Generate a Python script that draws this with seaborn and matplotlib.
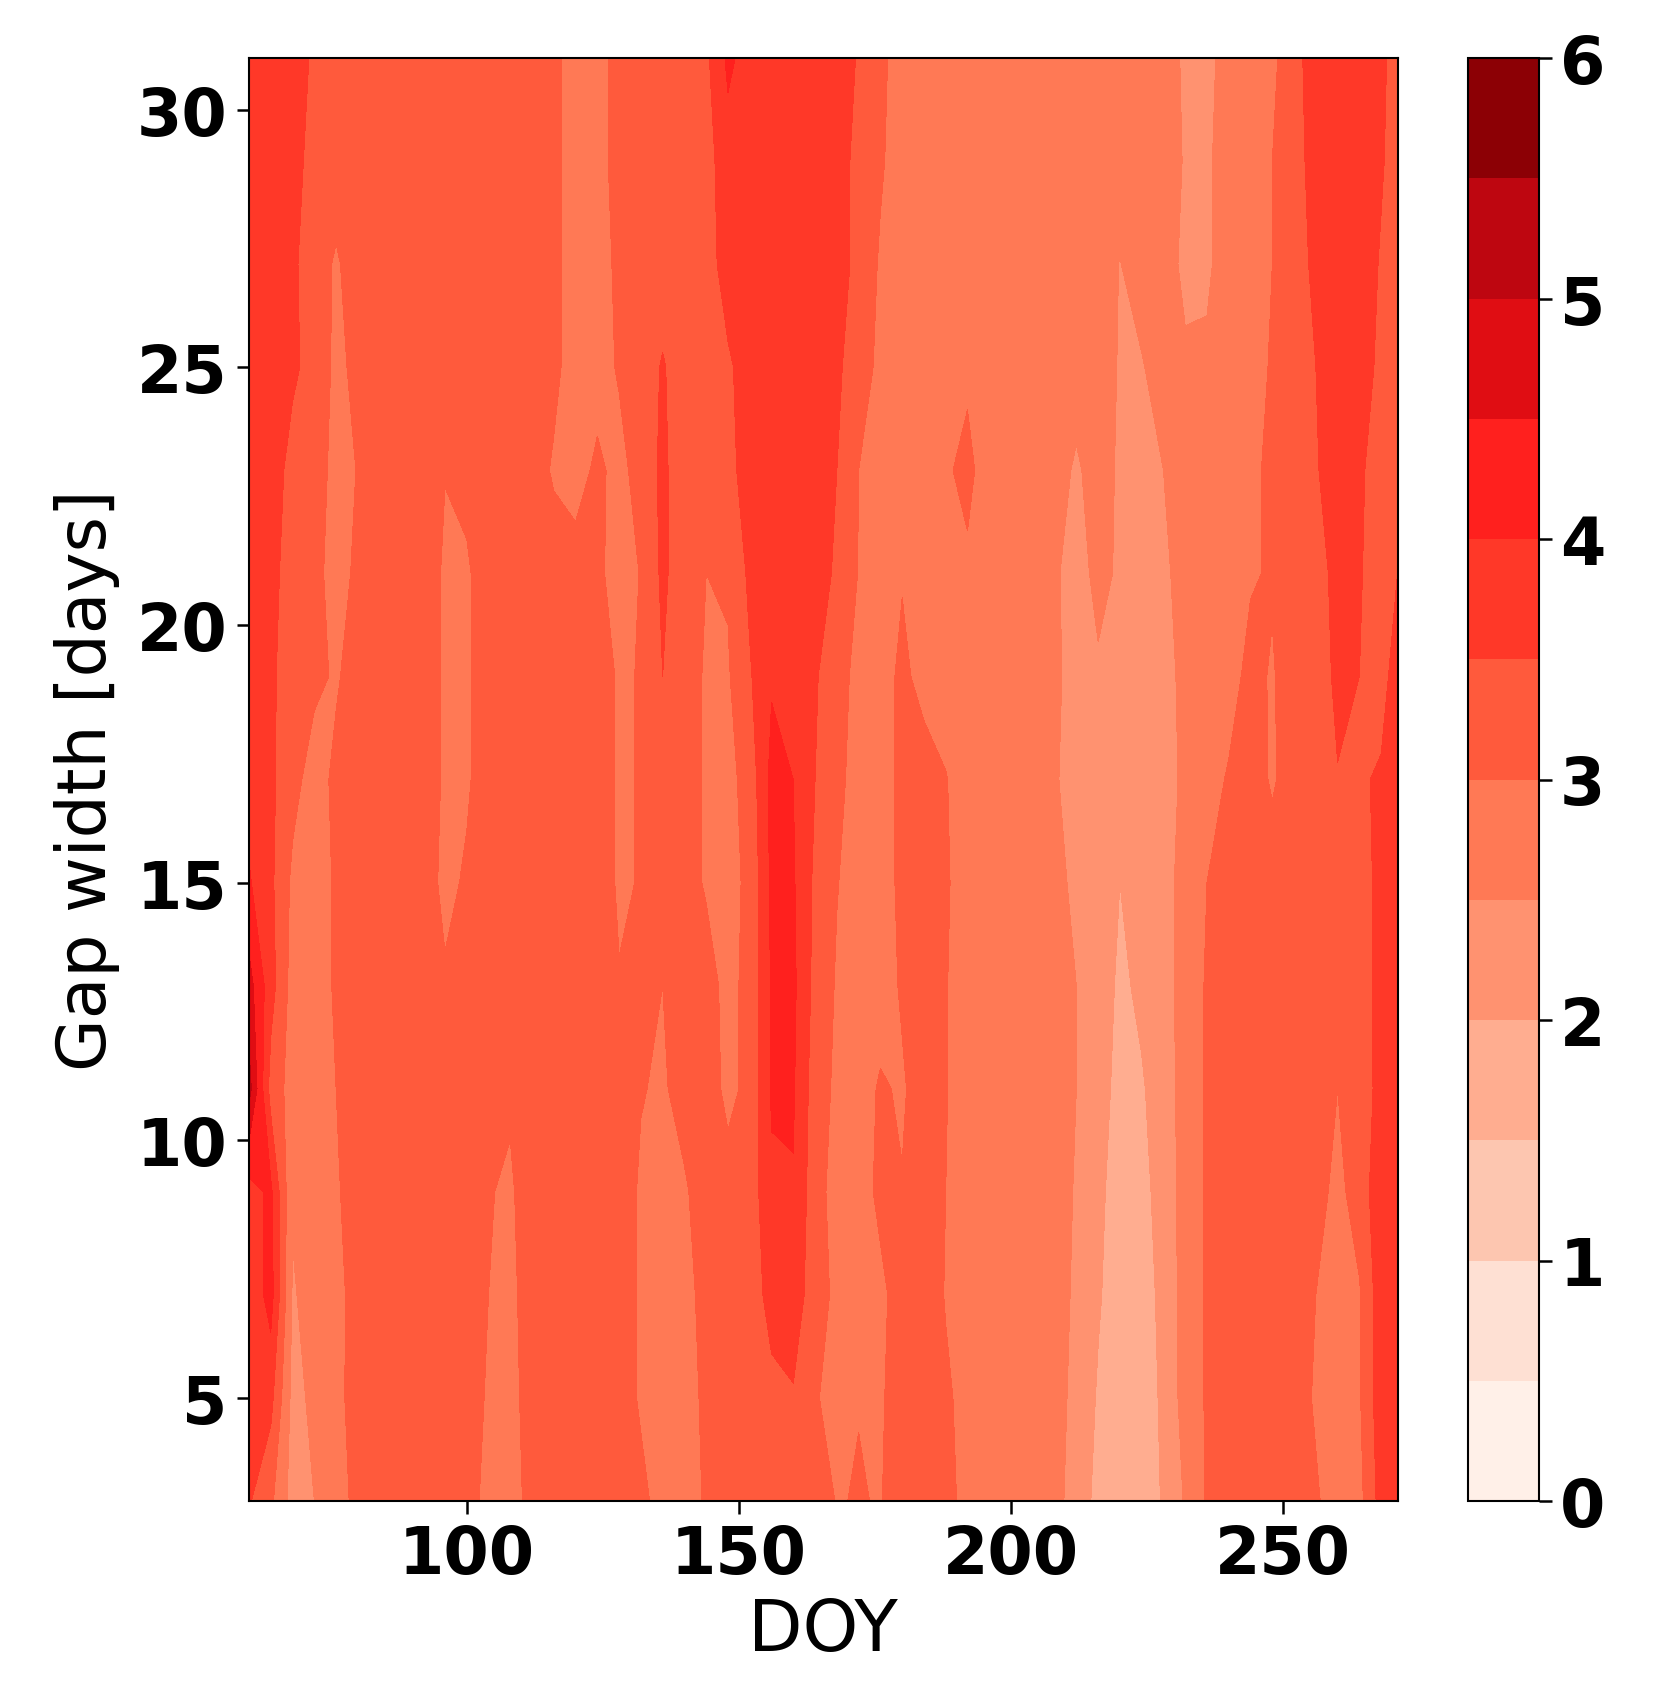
import numpy as np
import matplotlib
matplotlib.use("Agg")
import matplotlib.pyplot as plt
import seaborn as sns

# DOY columns of the table, 4 days apart
doy = [60, 64, 68, 72, 76, 80, 84, 88, 92, 96,
       100, 104, 108, 112, 116, 120, 124, 128, 132, 136,
       140, 144, 148, 152, 156, 160, 164, 168, 172, 176,
       180, 184, 188, 192, 196, 200, 204, 208, 212, 216,
       220, 224, 228, 232, 236, 240, 244, 248, 252, 256,
       260, 264, 268, 272]
gap_width = [3, 5, 7, 9, 11, 13, 15, 17, 19, 21, 23, 25, 27, 29, 31]

gap_03 = [3.55, 3.1, 2.3, 2.5, 2.7, 3.2, 3.2, 3.2, 3.2, 3.2,
          3.2, 2.85, 2.75, 3.2, 3.2, 3.2, 3.2, 3.2, 3.1, 2.85,
          2.8, 3.05, 3.2, 3.2, 3.2, 3.2, 3.2, 2.98, 3.02, 2.98,
          3.2, 3.02, 3.1, 2.9, 2.8, 2.8, 2.8, 2.65, 2.3, 1.85,
          1.7, 1.7, 2.05, 2.55, 3.05, 3.2, 3.2, 3.2, 3.2, 3.05,
          2.8, 2.85, 3.7, 3.8]
gap_05 = [3.6, 3.65, 2.35, 2.6, 2.8, 3.3, 3.2, 3.2, 3.2, 3.2,
          3.2, 2.95, 2.85, 3.2, 3.2, 3.2, 3.2, 3.2, 2.95, 2.8,
          2.8, 3.1, 3.2, 3.2, 3.35, 3.45, 3.05, 2.8, 2.99, 2.95,
          3.2, 3.1, 3.05, 2.9, 2.8, 2.8, 2.8, 2.7, 2.35, 1.95,
          1.7, 1.7, 2.1, 2.7, 3.05, 3.2, 3.2, 3.2, 3.2, 2.95,
          2.8, 2.95, 3.8, 3.8]
gap_07 = [3.6, 4.2, 2.45, 2.7, 2.85, 3.2, 3.2, 3.2, 3.2, 3.2,
          3.2, 3.0, 2.9, 3.2, 3.2, 3.2, 3.2, 3.2, 2.95, 2.8,
          2.8, 3.2, 3.2, 3.2, 3.7, 3.8, 3.2, 2.9, 2.8, 2.9,
          3.2, 3.2, 2.98, 2.8, 2.8, 2.8, 2.8, 2.75, 2.4, 2.05,
          1.75, 1.75, 2.15, 2.7, 3.05, 3.2, 3.2, 3.2, 3.2, 3.0,
          2.8, 2.95, 3.8, 3.8]
gap_09 = [3.8, 4.1, 2.55, 2.8, 2.95, 3.2, 3.2, 3.2, 3.2, 3.2,
          3.2, 3.02, 2.95, 3.2, 3.2, 3.2, 3.2, 3.2, 2.95, 2.8,
          2.95, 3.2, 3.15, 3.2, 3.93, 3.97, 3.2, 2.8, 2.8, 3.1,
          3.02, 3.2, 3.0, 2.8, 2.8, 2.8, 2.8, 2.75, 2.45, 2.1,
          1.8, 1.85, 2.2, 2.7, 3.05, 3.2, 3.2, 3.2, 3.2, 3.2,
          2.85, 3.25, 3.8, 3.8]
gap_11 = [5.2, 3.3, 2.8, 2.8, 3.0, 3.2, 3.2, 3.2, 3.2, 3.2,
          3.2, 3.2, 3.05, 3.2, 3.2, 3.2, 3.2, 3.2, 3.02, 2.95,
          3.15, 3.2, 2.9, 3.1, 4.05, 4.05, 3.25, 2.9, 2.8, 3.05,
          2.95, 3.2, 3.02, 2.8, 2.8, 2.8, 2.8, 2.75, 2.5, 2.2,
          1.85, 1.95, 2.25, 2.7, 3.05, 3.2, 3.2, 3.2, 3.2, 3.2,
          3.0, 3.25, 3.65, 3.8]
gap_13 = [4.7, 3.7, 2.8, 2.8, 3.05, 3.2, 3.2, 3.2, 3.2, 3.05,
          3.2, 3.2, 3.2, 3.2, 3.2, 3.2, 3.2, 3.02, 3.2, 3.0,
          3.2, 3.2, 2.85, 3.15, 4.05, 4.1, 3.35, 2.95, 2.8, 2.8,
          3.05, 3.2, 3.02, 2.8, 2.8, 2.8, 2.8, 2.75, 2.5, 2.3,
          1.9, 2.1, 2.3, 2.7, 3.05, 3.2, 3.2, 3.2, 3.2, 3.2,
          3.2, 3.2, 3.7, 3.8]
gap_15 = [4.05, 3.6, 2.9, 2.8, 3.05, 3.2, 3.2, 3.2, 3.2, 2.9,
          3.05, 3.2, 3.2, 3.2, 3.2, 3.2, 3.2, 2.95, 3.02, 3.2,
          3.2, 2.95, 2.85, 3.1, 4.1, 4.05, 3.4, 3.02, 2.8, 2.8,
          3.1, 3.2, 3.05, 2.8, 2.8, 2.8, 2.8, 2.7, 2.35, 2.3,
          2.0, 2.2, 2.35, 2.65, 3.0, 3.2, 3.2, 3.2, 3.2, 3.2,
          3.2, 3.2, 3.7, 3.8]
gap_17 = [3.8, 3.6, 3.15, 2.8, 3.1, 3.2, 3.2, 3.2, 3.2, 2.95,
          2.95, 3.2, 3.2, 3.2, 3.2, 3.2, 3.2, 2.95, 3.02, 3.2,
          3.2, 2.95, 2.85, 3.2, 4.15, 4.0, 3.5, 3.1, 2.85, 2.8,
          3.1, 3.2, 3.02, 2.8, 2.8, 2.8, 2.8, 2.55, 2.3, 2.3,
          2.3, 2.3, 2.3, 2.6, 2.8, 3.05, 3.2, 2.95, 3.2, 3.3,
          3.48, 3.45, 3.55, 3.8]
gap_19 = [3.8, 3.6, 3.2, 3.1, 2.95, 3.2, 3.2, 3.2, 3.2, 2.95,
          2.95, 3.2, 3.2, 3.2, 3.2, 3.2, 3.2, 2.95, 3.02, 3.5,
          3.2, 2.95, 2.95, 3.45, 3.95, 3.8, 3.55, 3.2, 2.85, 2.8,
          3.1, 2.85, 2.8, 2.8, 2.8, 2.8, 2.8, 2.6, 2.3, 2.4,
          2.3, 2.3, 2.3, 2.65, 2.8, 2.8, 3.15, 2.95, 3.3, 3.25,
          3.6, 3.5, 3.35, 3.8]
gap_21 = [3.8, 3.7, 3.2, 3.15, 2.8, 3.1, 3.2, 3.2, 3.2, 2.95,
          2.95, 3.2, 3.2, 3.2, 3.2, 3.2, 3.1, 2.8, 3.02, 3.6,
          3.2, 3.0, 3.05, 3.6, 3.8, 3.8, 3.8, 3.4, 2.98, 2.8,
          2.97, 2.8, 2.8, 2.93, 2.8, 2.8, 2.8, 2.6, 2.2, 2.7,
          2.4, 2.3, 2.45, 2.6, 2.8, 2.8, 2.95, 3.05, 3.2, 3.3,
          3.65, 3.55, 3.2, 3.6]
gap_23 = [3.8, 3.8, 3.3, 3.3, 2.8, 3.02, 3.2, 3.2, 3.2, 3.01,
          3.1, 3.2, 3.2, 3.2, 2.95, 2.8, 3.1, 2.85, 3.2, 3.6,
          3.2, 3.2, 3.3, 3.8, 3.8, 3.8, 3.8, 3.5, 3.0, 2.8,
          2.8, 2.8, 2.95, 3.1, 2.8, 2.8, 2.8, 2.8, 2.4, 2.8,
          2.4, 2.3, 2.5, 2.8, 2.8, 2.8, 2.85, 3.15, 3.3, 3.45,
          3.8, 3.6, 3.2, 3.5]
gap_25 = [3.8, 3.8, 3.6, 3.3, 2.9, 3.1, 3.2, 3.2, 3.2, 3.2,
          3.2, 3.2, 3.2, 3.2, 3.1, 2.8, 2.8, 3.05, 3.2, 3.55,
          3.2, 3.2, 3.4, 3.8, 3.8, 3.8, 3.8, 3.6, 3.2, 2.9,
          2.8, 2.8, 2.8, 2.93, 2.8, 2.8, 2.8, 2.8, 2.8, 2.8,
          2.45, 2.45, 2.8, 2.6, 2.6, 2.8, 2.8, 3.05, 3.2, 3.5,
          3.8, 3.8, 3.35, 3.2]
gap_27 = [3.8, 3.8, 3.6, 3.2, 2.95, 3.2, 3.2, 3.2, 3.2, 3.2,
          3.2, 3.2, 3.2, 3.2, 3.1, 2.8, 2.8, 3.1, 3.2, 3.2,
          3.2, 3.2, 3.8, 3.8, 3.8, 3.8, 3.8, 3.8, 3.3, 2.95,
          2.8, 2.8, 2.8, 2.8, 2.8, 2.8, 2.8, 2.8, 2.8, 2.8,
          2.48, 2.8, 2.8, 2.35, 2.4, 2.8, 2.8, 3.0, 3.3, 3.6,
          3.8, 3.8, 3.45, 3.2]
gap_29 = [3.8, 3.8, 3.7, 3.3, 3.2, 3.2, 3.2, 3.2, 3.2, 3.2,
          3.2, 3.2, 3.2, 3.2, 3.1, 2.8, 2.8, 3.2, 3.2, 3.2,
          3.2, 3.3, 3.8, 3.8, 3.8, 3.8, 3.8, 3.8, 3.3, 3.05,
          2.8, 2.8, 2.8, 2.8, 2.8, 2.8, 2.8, 2.8, 2.8, 2.8,
          2.8, 2.8, 2.8, 2.45, 2.4, 2.8, 2.8, 3.0, 3.2, 3.8,
          3.8, 3.8, 3.55, 3.2]
gap_31 = [3.8, 3.8, 3.8, 3.4, 3.2, 3.2, 3.2, 3.2, 3.2, 3.2,
          3.2, 3.2, 3.2, 3.2, 3.1, 2.8, 2.8, 3.2, 3.2, 3.2,
          3.2, 3.4, 4.1, 3.8, 3.8, 3.8, 3.8, 3.8, 3.45, 3.1,
          2.8, 2.8, 2.8, 2.8, 2.8, 2.8, 2.8, 2.8, 2.8, 2.8,
          2.8, 2.8, 2.8, 2.4, 2.3, 2.8, 2.8, 2.9, 3.3, 3.8,
          3.8, 3.8, 3.6, 3.2]

band_colors = ["#FFF0E8", "#FEE0D3", "#FDC6B0", "#FFAD90", "#FF9270", "#FF7955",
               "#FF5A3C", "#FF3828", "#FF201E", "#E00D13", "#BE0610", "#8C0005"]
band_edges = [0, 0.5, 1, 1.5, 2, 2.5, 3, 3.5, 4, 4.5, 5, 5.5, 6]

rows = [gap_03, gap_05, gap_07, gap_09, gap_11, gap_13, gap_15, gap_17,
        gap_19, gap_21, gap_23, gap_25, gap_27, gap_29, gap_31]
values = np.array(rows)

sns.set_style("ticks", {"text.color": "black", "axes.labelcolor": "black",
                        "xtick.color": "black", "ytick.color": "black",
                        "axes.edgecolor": "black"})
plt.rcParams["font.family"] = "DejaVu Sans"

fig = plt.figure(figsize=(16.55, 16.9), dpi=100)
ax = fig.add_axes([249 / 1655, 188 / 1690, 1148.5 / 1655, 1443 / 1690])
cax = fig.add_axes([1467.5 / 1655, 188 / 1690, 71.5 / 1655, 1443 / 1690])

contours = ax.contourf(doy, gap_width, values, levels=band_edges,
                       colors=sns.color_palette(band_colors))
ax.set_xlim(60, 271)
ax.set_ylim(3, 31)
ax.set_xticks([100, 150, 200, 250])
ax.set_yticks([5, 10, 15, 20, 25, 30])
ax.set_xlabel("DOY", fontsize=51, labelpad=7)
ax.set_ylabel("Gap width [days]", fontsize=49, labelpad=12)
ax.tick_params(length=9, width=1.8, pad=6.5)
for label in ax.get_xticklabels() + ax.get_yticklabels():
    label.set_fontsize(47)
    label.set_fontweight("bold")
for spine in ax.spines.values():
    spine.set_linewidth(1.5)
    spine.set_visible(True)

bar = fig.colorbar(contours, cax=cax, ticks=[0, 1, 2, 3, 4, 5, 6])
bar.ax.tick_params(length=9, width=1.8, pad=6)
for label in bar.ax.get_yticklabels():
    label.set_fontsize(47)
    label.set_fontweight("bold")
bar.outline.set_linewidth(1.5)

fig.savefig("out.png", dpi=100)
plt.close(fig)
